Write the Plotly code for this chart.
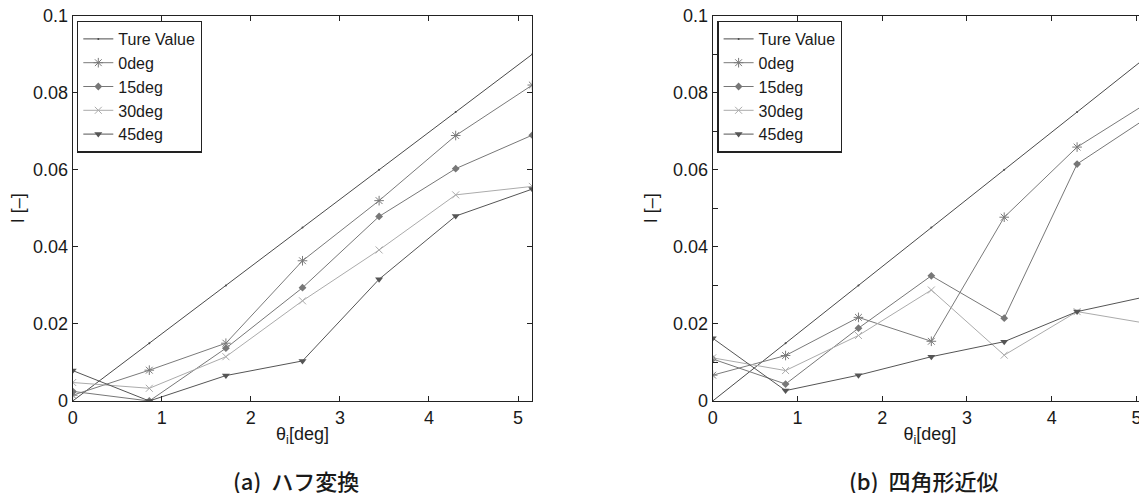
import plotly.graph_objects as go

# ---- data ----
theta = [0, 0.86, 1.72, 2.58, 3.44, 4.30, 5.16]
true_value = [0, 0.015, 0.030, 0.045, 0.060, 0.075, 0.090]

# (a) Hough transform
a_0deg = [0.0015, 0.008, 0.015, 0.0364, 0.052, 0.0689, 0.082]
a_15deg = [0.0025, 0.0, 0.0137, 0.0294, 0.0479, 0.0603, 0.069]
a_30deg = [0.0048, 0.0033, 0.0115, 0.026, 0.0392, 0.0535, 0.0557]
a_45deg = [0.0079, 0.0, 0.0066, 0.0104, 0.0316, 0.048, 0.055]

# (b) quadrilateral approximation
b_0deg = [0.0067, 0.0118, 0.0217, 0.0155, 0.0477, 0.0659, 0.0778]
b_15deg = [0.0109, 0.0044, 0.0189, 0.0325, 0.0215, 0.0615, 0.074]
b_30deg = [0.0112, 0.0079, 0.017, 0.0288, 0.0119, 0.0232, 0.020]
b_45deg = [0.0163, 0.0027, 0.0067, 0.0115, 0.0154, 0.0232, 0.0273]

series_names = ["Ture Value", "0deg", "15deg", "30deg", "45deg"]
y_tickvals = [0, 0.02, 0.04, 0.06, 0.08, 0.1]
y_ticktext = ["0", "0.02", "0.04", "0.06", "0.08", "0.1"]
x_ticks = [0, 1, 2, 3, 4, 5]
captions = ["(a)  ハフ変換", "(b)  四角形近似"]

# ---- styles ----
OFF = 8  # page body margin offset
W, H = 1147 - OFF, 493 - OFF


def px(v):
    return (v - OFF) / W


def py(v):
    return 1 - (v - OFF) / H


styles = [
    dict(color="#4a4a4a", symbol="circle", size=2, lw=0),
    dict(color="#7a7a7a", symbol="asterisk-open", size=8, lw=1),
    dict(color="#777777", symbol="diamond", size=6, lw=0),
    dict(color="#ababab", symbol="x-thin-open", size=7, lw=1),
    dict(color="#555555", symbol="triangle-down", size=7, lw=0),
]

fig = go.Figure()

panels = [
    ("x", "y", "legend", [true_value, a_0deg, a_15deg, a_30deg, a_45deg]),
    ("x2", "y2", "legend2", [true_value, b_0deg, b_15deg, b_30deg, b_45deg]),
]
for xa, ya, lg, data in panels:
    for name, vals, st in zip(series_names, data, styles):
        fig.add_trace(go.Scatter(
            x=theta, y=vals, name=name, mode="lines+markers",
            xaxis=xa, yaxis=ya, legend=lg,
            line=dict(color=st["color"], width=1),
            marker=dict(color=st["color"], symbol=st["symbol"], size=st["size"],
                        line=dict(color=st["color"], width=st["lw"])),
            cliponaxis=True,
        ))

ydom = [py(401), py(15.7)]
font = dict(family="Liberation Sans, Arial, sans-serif", size=18, color="#1a1a1a")
leg_font = dict(family="Liberation Sans, Arial, sans-serif", size=16, color="#1a1a1a")

common_x = dict(showline=True, linecolor="#222", linewidth=1.3, mirror="ticks",
                ticks="inside", ticklen=5, tickcolor="#222", tickwidth=1,
                showgrid=False, zeroline=False, tickvals=x_ticks,
                tickfont=font, automargin=False, ticklabeloverflow="allow",
                title=dict(text="θ<sub>i</sub>[deg]", font=font, standoff=0))
common_y = dict(showline=True, linecolor="#222", linewidth=1.3, mirror="ticks",
                ticks="inside", ticklen=5, tickcolor="#222", tickwidth=1,
                showgrid=False, zeroline=False, range=[0, 0.1],
                tickvals=y_tickvals, ticktext=y_ticktext,
                tickfont=font, automargin=False, ticklabeloverflow="allow",
                title=dict(text="I [–]", font=font, standoff=10))

fig.update_layout(
    width=W, height=H,
    margin=dict(l=0, r=0, t=0, b=0),
    paper_bgcolor="white", plot_bgcolor="white",
    font=font,
    xaxis=dict(common_x, domain=[px(72.7), px(532.3)], range=[0, 5.16], anchor="y"),
    yaxis=dict(common_y, domain=ydom, anchor="x"),
    xaxis2=dict(common_x, domain=[px(712.7), 1.0], range=[0, 5.125], anchor="y2"),
    yaxis2=dict(common_y, domain=ydom, anchor="x2",
                minor=dict(dtick=0.01, ticks="inside", ticklen=5,
                           tickcolor="#222", tickwidth=1, showgrid=False)),
    legend=dict(x=px(77), y=py(20.7), xanchor="left", yanchor="top",
                bgcolor="white", bordercolor="#222", borderwidth=1.3,
                font=leg_font, itemwidth=30, tracegroupgap=0),
    legend2=dict(x=px(717.3), y=py(20.7), xanchor="left", yanchor="top",
                 bgcolor="white", bordercolor="#222", borderwidth=1.3,
                 font=leg_font, itemwidth=30, tracegroupgap=0),
    showlegend=True,
)

cap_font = dict(family="Noto Sans CJK JP, sans-serif", size=22, color="#1a1a1a",
                weight=500)
for cx, txt in zip([296, 923], captions):
    fig.add_annotation(x=px(cx), y=py(480), xref="paper", yref="paper",
                       text=txt, showarrow=False, font=cap_font,
                       xanchor="center", yanchor="middle")

fig.write_html("out.html")
